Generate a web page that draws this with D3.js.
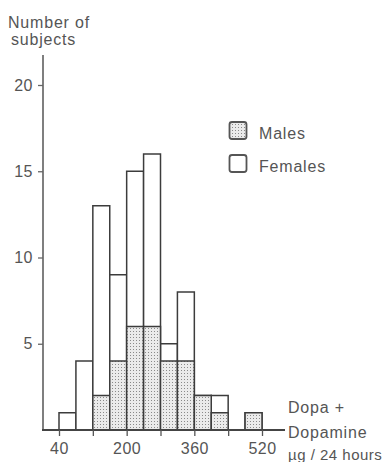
<!DOCTYPE html>
<html><head><meta charset="utf-8">
<script src="https://cdn.jsdelivr.net/npm/d3@7/dist/d3.min.js"></script>
<style>
html,body{margin:0;padding:0;background:#fff;}
svg{display:block;}
text{font-family:"Liberation Sans",Arial,Helvetica,sans-serif;fill:#555;}
</style></head>
<body>
<svg id="chart" width="389" height="462"></svg>
<script>
// Data (bins of 40 µg/24 h, starting values)
const binStarts = [40, 80, 120, 160, 200, 240, 280, 320, 360, 400, 440, 480];
const binWidth = 40;
const males   = [0, 0, 2, 4, 6, 6, 4, 4, 2, 1, 0, 1];
const females = [1, 4, 11, 5, 9, 10, 1, 4, 0, 1, 0, 0];
const yTicks = [5, 10, 15, 20];
const xTicks = [40, 120, 200, 280, 360, 440, 520];
const xTickLabels = [40, 200, 360, 520];
const seriesNames = ["Males", "Females"];

const svg = d3.select("#chart");
const x = d3.scaleLinear().domain([40, 520]).range([59, 262]);
const y = d3.scaleLinear().domain([0, 20]).range([430, 85]);
const axisX0 = 43, axisXEnd = 285, axisYTop = 55;

// stipple pattern
const defs = svg.append("defs");
const pat = defs.append("pattern").attr("id","dots").attr("patternUnits","userSpaceOnUse")
  .attr("width",3).attr("height",3);
pat.append("rect").attr("width",3).attr("height",3).attr("fill","#ebebeb");
pat.append("rect").attr("x",1).attr("y",1).attr("width",1).attr("height",1).attr("fill","#8a8a8a");

const data = binStarts.map((b,i)=>({b, m:males[i], f:females[i]}));
const stroke = "#3c3c3c";

// female (total) bars
svg.append("g").selectAll("rect").data(data.filter(d=>d.m+d.f>0)).join("rect")
  .attr("x", d=>x(d.b)).attr("width", d=>x(d.b+binWidth)-x(d.b))
  .attr("y", d=>y(d.m+d.f)).attr("height", d=>y(0)-y(d.m+d.f))
  .attr("fill","#fff").attr("stroke",stroke).attr("stroke-width",1.5);
// male bars
svg.append("g").selectAll("rect").data(data.filter(d=>d.m>0)).join("rect")
  .attr("x", d=>x(d.b)).attr("width", d=>x(d.b+binWidth)-x(d.b))
  .attr("y", d=>y(d.m)).attr("height", d=>y(0)-y(d.m))
  .attr("fill","url(#dots)").attr("stroke",stroke).attr("stroke-width",1.5);

// axes lines
svg.append("line").attr("x1",axisX0).attr("x2",axisX0).attr("y1",axisYTop).attr("y2",y(0))
  .attr("stroke","#555").attr("stroke-width",1.5);
svg.append("line").attr("x1",axisX0-1).attr("x2",axisXEnd).attr("y1",y(0)).attr("y2",y(0))
  .attr("stroke","#444").attr("stroke-width",1.8);

// y axis ticks
const yAxis = d3.axisLeft(y).tickValues(yTicks).tickSize(5).tickPadding(5);
const gy = svg.append("g").attr("transform",`translate(${axisX0},0)`).call(yAxis);
gy.select(".domain").remove();
gy.selectAll("line").attr("stroke","#666").attr("stroke-width",1.3);
gy.selectAll("text").attr("font-size",16).attr("fill","#555")
  .attr("font-family","Liberation Sans, Arial, sans-serif").attr("style","letter-spacing:0.5px");

// x axis ticks
const xAxis = d3.axisBottom(x).tickValues(xTicks).tickSize(6).tickPadding(7)
  .tickFormat(d => xTickLabels.includes(d) ? d : "");
const gx = svg.append("g").attr("transform",`translate(0,${y(0)})`).call(xAxis);
gx.select(".domain").remove();
gx.selectAll("line").attr("stroke","#555").attr("stroke-width",1.3);
gx.selectAll("text").attr("font-size",16).attr("fill","#555")
  .attr("font-family","Liberation Sans, Arial, sans-serif").attr("style","letter-spacing:0.5px");

// y title
const yt = svg.append("text").attr("font-size",16).attr("style","letter-spacing:0.8px");
yt.append("tspan").attr("x",8).attr("y",28).text("Number of");
yt.append("tspan").attr("x",11).attr("y",45).text("subjects");

// x title
const xt = svg.append("text").attr("font-size",16).attr("style","letter-spacing:0.8px");
xt.append("tspan").attr("x",288).attr("y",413).text("Dopa +");
xt.append("tspan").attr("x",288).attr("y",438).text("Dopamine");
svg.append("text").attr("x",288).attr("y",460).attr("font-size",15)
  .attr("style","letter-spacing:0.5px").text("µg / 24 hours");

// legend
const leg = svg.append("g");
const legY = [122, 155];
seriesNames.forEach((n,i)=>{
  leg.append("rect").attr("x",229.5).attr("y",legY[i]).attr("width",17).attr("height",17)
    .attr("rx",2.5).attr("fill", i===0 ? "url(#dots)" : "#fff")
    .attr("stroke","#555").attr("stroke-width",1.8);
  leg.append("text").attr("x",259).attr("y",legY[i]+17).attr("font-size",16)
    .attr("style","letter-spacing:0.8px").text(n);
});
</script>
</body></html>
